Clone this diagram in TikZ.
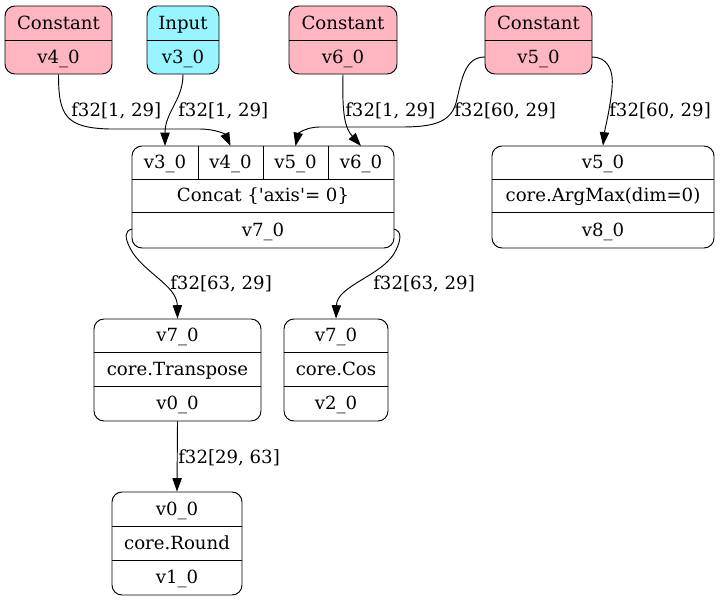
\documentclass[tikz,border=0pt]{standalone}
\usepackage{fontspec}
\newfontfamily\dvs{DejaVu Serif}
\usetikzlibrary{arrows.meta,fit}
\definecolor{cpink}{HTML}{FFB6C1}
\definecolor{ccyan}{HTML}{98F5FF}
\begin{document}
\begin{tikzpicture}[x=0.75pt,y=-0.75pt,
 box/.style={draw, line width=0.7pt, rounded corners=7.5pt, inner sep=0pt},
 txt/.style={anchor=base, inner sep=0pt, font=\dvs\fontsize{13.6pt}{16pt}\selectfont},
 lbl/.style={anchor=base west, inner sep=0pt, font=\dvs\fontsize{13.6pt}{16pt}\selectfont},
 edge/.style={line width=0.7pt, -{Triangle[length=10pt,width=7pt]}},
 sep/.style={line width=0.7pt}]
\useasboundingbox (0,0) rectangle (720,601);

% top boxes
\node[box, fill=cpink, fit={(5,6) (112,74)}] (c4) {};
\draw[sep] (5,40) -- (112,40);
\node[txt] (c4a) at (58.5,29) {Constant};
\node[txt] (c4b) at (58.5,63) {v4\_0};

\node[box, fill=ccyan, fit={(147,6) (219,74)}] (in3) {};
\draw[sep] (147,40) -- (219,40);
\node[txt] (in3a) at (183,29) {Input};
\node[txt] (in3b) at (183,63) {v3\_0};

\node[box, fill=cpink, fit={(289,6) (397,74)}] (c6) {};
\draw[sep] (289,40) -- (397,40);
\node[txt] (c6a) at (343,29) {Constant};
\node[txt] (c6b) at (343,63) {v6\_0};

\node[box, fill=cpink, fit={(485,6) (592,74)}] (c5) {};
\draw[sep] (485,40) -- (592,40);
\node[txt] (c5a) at (538.5,29) {Constant};
\node[txt] (c5b) at (538.5,63) {v5\_0};

% concat
\node[box, fit={(132,146) (394,248)}] (cc) {};
\draw[sep] (132,179) -- (394,179);
\draw[sep] (132,212) -- (394,212);
\draw[sep] (198,146) -- (198,179);
\draw[sep] (263,146) -- (263,179);
\draw[sep] (328,146) -- (328,179);
\node[txt] (cc3) at (165,168.5) {v3\_0};
\node[txt] (cc4) at (230.5,168.5) {v4\_0};
\node[txt] (cc5) at (295.5,168.5) {v5\_0};
\node[txt] (cc6) at (361,168.5) {v6\_0};
\node[txt] (ccop) at (263,201.5) {Concat \{'axis'= 0\}};
\node[txt] (ccout) at (263,236) {v7\_0};

% argmax
\node[box, fit={(492,146) (714,248)}] (ag) {};
\draw[sep] (492,179) -- (714,179);
\draw[sep] (492,212) -- (714,212);
\node[txt] (aga) at (603,168.5) {v5\_0};
\node[txt] (agb) at (603,201.5) {core.ArgMax(dim=0)};
\node[txt] (agc) at (603,236) {v8\_0};

% transpose
\node[box, fit={(94,319) (261,421)}] (tr) {};
\draw[sep] (94,352) -- (261,352);
\draw[sep] (94,386) -- (261,386);
\node[txt] (tra) at (177.5,341.5) {v7\_0};
\node[txt] (trb) at (177.5,375) {core.Transpose};
\node[txt] (trc) at (177.5,409.5) {v0\_0};

% cos
\node[box, fit={(284,319) (388,421)}] (cs) {};
\draw[sep] (284,352) -- (388,352);
\draw[sep] (284,386) -- (388,386);
\node[txt] (csa) at (336,341.5) {v7\_0};
\node[txt] (csb) at (336,375) {core.Cos};
\node[txt] (csc) at (336,409.5) {v2\_0};

% round
\node[box, fit={(112,492) (242,595)}] (rd) {};
\draw[sep] (112,526) -- (242,526);
\draw[sep] (112,560) -- (242,560);
\node[txt] (rda) at (177,515) {v0\_0};
\node[txt] (rdb) at (177,549) {core.Round};
\node[txt] (rdc) at (177,583.5) {v1\_0};

% ports
\coordinate (p3) at (165,146);
\coordinate (p4) at (230.5,146);
\coordinate (p5) at (295.5,146);
\coordinate (p6) at (361,146);
\coordinate (c5w) at (485,57);
\coordinate (c5e) at (592,57);
\coordinate (ccw) at (132,229);
\coordinate (cce) at (394,229);

% edges
\draw[edge] (c4.south) .. controls (58.5,115) and (65,128) .. (110,129) -- (200,129) .. controls (215,129) and (225,134) .. (p4);
\draw[edge] (in3.south) .. controls (183,100) and (165,112) .. (p3);
\draw[edge] (c6.south) .. controls (342,115) and (345,128) .. (p6);
\draw[edge] (c5w) .. controls (465,57) and (462,78) .. (456,103) .. controls (450,124) and (430,127) .. (400,127) -- (320,127) .. controls (305,127) and (298,134) .. (p5);
\draw[edge] (c5e) .. controls (606,57) and (614,68) .. (612,88) .. controls (610,110) and (605,128) .. (ag.north);
\draw[edge] (ccw) .. controls (124,231) and (125,238) .. (130,248) .. controls (142,272) and (177,285) .. (tr.north);
\draw[edge] (cce) .. controls (402,231) and (401,240) .. (396,250) .. controls (385,275) and (337,285) .. (cs.north);
\draw[edge] (tr.south) -- (rd.north);

% labels
\node[lbl] (l1) at (71,116) {f32[1, 29]};
\node[lbl] (l2) at (178,116) {f32[1, 29]};
\node[lbl] (l3) at (345,116) {f32[1, 29]};
\node[lbl] (l4) at (454,116) {f32[60, 29]};
\node[lbl] (l5) at (609,116) {f32[60, 29]};
\node[lbl] (l6) at (170,289) {f32[63, 29]};
\node[lbl] (l7) at (373,289) {f32[63, 29]};
\node[lbl] (l8) at (178,463) {f32[29, 63]};
\end{tikzpicture}
\end{document}
